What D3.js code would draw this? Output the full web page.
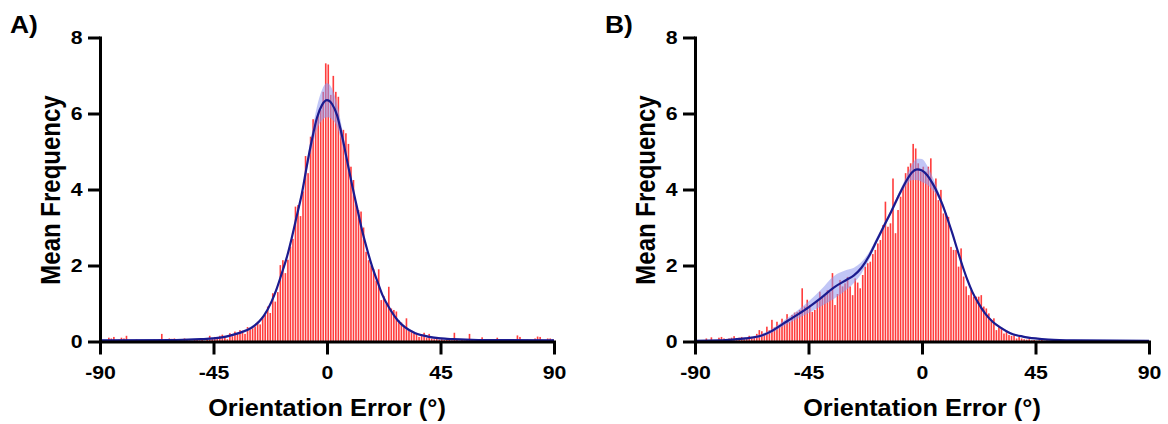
<!DOCTYPE html>
<html>
<head>
<meta charset="utf-8">
<script src="https://cdn.jsdelivr.net/npm/d3@7"></script>
<style>
  body { margin: 0; background: #fff; }
  svg { display: block; font-family: "Liberation Sans", Arial, Helvetica, sans-serif; font-weight: bold; }
</style>
</head>
<body>
<svg id="chart" width="1168" height="424"></svg>
<script>
// axis ticks
const xTicks = [-90, -45, 0, 45, 90];
const yTicks = [0, 2, 4, 6, 8];

// one bin per degree, -90 .. 89
const binStarts = d3.range(-90, 90);

// mean frequency per bin, panel A
const barsA = [
  0.05, 0, 0.02, 0.1, 0.08, 0.12, 0, 0.05, 0.1, 0.08,
  0.15, 0.02, 0, 0.03, 0.05, 0.02, 0, 0.04, 0.03, 0,
  0.02, 0.05, 0.03, 0.06, 0.2, 0.04, 0.02, 0.08, 0.07, 0.08,
  0.03, 0.06, 0.02, 0.08, 0.05, 0.03, 0.02, 0.06, 0.04, 0.03,
  0.05, 0.02, 0.06, 0.15, 0.08, 0.12, 0.1, 0.15, 0.18, 0.1,
  0.06, 0.22, 0.14, 0.26, 0.2, 0.3, 0.28, 0.2, 0.38, 0.32,
  0.35, 0.4, 0.52, 0.45, 0.62, 0.7, 0.92, 0.75, 1.27, 1.05,
  1.3, 2.01, 2.14, 1.8, 2.15, 2.5, 2.7, 3.55, 3.59, 3.3,
  3.95, 4.88, 4.43, 5.39, 5.85, 5.74, 6.0, 6.09, 6.57, 7.32,
  7.29, 6.49, 6.99, 6.57, 6.44, 5.61, 5.57, 5.48, 5.2, 4.6,
  4.25, 3.64, 3.46, 3.42, 3.0, 2.36, 2.14, 2.0, 1.9, 1.6,
  1.9, 1.09, 1.2, 1.0, 1.44, 0.87, 0.83, 0.79, 0.56, 0.5,
  0.4, 0.61, 0.3, 0.28, 0.22, 0.2, 0.12, 0.18, 0.23, 0.1,
  0.2, 0.08, 0.06, 0.11, 0.05, 0.07, 0.04, 0.05, 0.06, 0.03,
  0.23, 0.04, 0.02, 0.05, 0.03, 0.05, 0.2, 0.06, 0.02, 0.04,
  0.03, 0.11, 0.02, 0.04, 0.03, 0.05, 0.02, 0.1, 0.04, 0.03,
  0.02, 0.05, 0.04, 0.02, 0.06, 0.16, 0.12, 0.03, 0.02, 0.05,
  0.04, 0.03, 0.08, 0.13, 0.12, 0.03, 0.02, 0.08, 0.08, 0.06
];

// mean frequency per bin, panel B
const barsB = [
  0, 0, 0.02, 0, 0.08, 0, 0.11, 0.03, 0, 0.1,
  0.12, 0.08, 0.05, 0.08, 0.1, 0.14, 0.06, 0.1, 0.12, 0.08,
  0.1, 0.15, 0.12, 0.14, 0.2, 0.3, 0.27, 0.2, 0.39, 0.3,
  0.57, 0.37, 0.52, 0.39, 0.6, 0.48, 0.72, 0.52, 0.7, 0.76,
  0.78, 0.83, 1.4, 0.92, 1.1, 0.95, 0.78, 0.83, 1.05, 1.31,
  1.15, 1.2, 1.35, 1.3, 1.8, 0.96, 1.25, 1.62, 1.45, 1.53,
  1.7, 1.45, 1.22, 1.66, 1.55, 1.4, 1.75, 1.97, 2.06, 2.1,
  2.3, 2.41, 2.58, 2.67, 3.06, 3.68, 3.02, 3.11, 4.29, 2.85,
  3.46, 3.81, 4.07, 4.43, 4.6, 4.69, 5.2, 5.08, 4.69, 4.47,
  4.6, 4.47, 4.6, 4.82, 4.16, 4.29, 3.72, 3.99, 3.37, 3.37,
  3.28, 2.49, 2.41, 2.41, 1.97, 2.45, 1.71, 1.45, 1.22, 1.36,
  1.18, 1.18, 1.18, 1.22, 0.92, 0.87, 0.74, 0.57, 0.61, 0.3,
  0.39, 0.35, 0.21, 0.28, 0.17, 0.15, 0.16, 0.08, 0.12, 0.08,
  0.06, 0.05, 0.06, 0.03, 0.04, 0.02, 0.03, 0.05, 0.02, 0.03,
  0, 0.02, 0, 0.04, 0, 0, 0.02, 0, 0, 0,
  0, 0, 0, 0.02, 0, 0, 0, 0, 0, 0,
  0, 0, 0, 0, 0, 0, 0, 0, 0, 0,
  0, 0, 0, 0, 0, 0, 0, 0, 0, 0
];

// fitted curve A + half width of its shaded band
const fitDegA = [-90, -60, -50, -45, -40, -35, -30, -27, -25, -22, -20, -18, -16, -14, -12, -10, -8, -6, -4, -2,
  0, 2, 4, 6, 8, 10, 12, 14, 16, 18, 20, 22, 25, 28, 31, 35, 40, 45, 50, 60, 90];
const fitA = [0.03, 0.04, 0.06, 0.08, 0.13, 0.22, 0.36, 0.52, 0.68, 1.05, 1.38, 1.78, 2.2, 2.72, 3.3, 3.88, 4.62, 5.3, 5.88, 6.22,
  6.35, 6.25, 5.95, 5.4, 4.75, 4.1, 3.5, 2.9, 2.4, 1.95, 1.58, 1.22, 0.85, 0.56, 0.37, 0.22, 0.13, 0.08, 0.06, 0.04, 0.03];
const bandA = [0.02, 0.02, 0.02, 0.03, 0.03, 0.03, 0.04, 0.04, 0.04, 0.05, 0.05, 0.05, 0.05, 0.06, 0.07, 0.08, 0.12, 0.2, 0.3, 0.4,
  0.45, 0.4, 0.3, 0.2, 0.12, 0.08, 0.07, 0.06, 0.05, 0.05, 0.05, 0.05, 0.04, 0.04, 0.04, 0.03, 0.03, 0.03, 0.02, 0.02, 0.02];

// fitted curve B + band
const fitDegB = [-90, -80, -75, -70, -65, -60, -55, -50, -45, -40, -35, -30, -27, -24, -21, -18, -15, -12, -9, -6, -4, -2,
  0, 2, 4, 6, 8, 10, 12, 14, 16, 18, 20, 22, 25, 28, 31, 35, 40, 45, 50, 60, 90];
const fitB = [0.02, 0.03, 0.05, 0.08, 0.13, 0.26, 0.47, 0.68, 0.9, 1.15, 1.42, 1.62, 1.74, 1.94, 2.25, 2.65, 3.05, 3.45, 3.87, 4.25, 4.45, 4.53,
  4.5, 4.38, 4.18, 3.93, 3.62, 3.25, 2.85, 2.42, 2.0, 1.62, 1.3, 1.05, 0.74, 0.52, 0.37, 0.22, 0.13, 0.08, 0.05, 0.03, 0.02];
const bandB = [0.02, 0.02, 0.03, 0.03, 0.04, 0.05, 0.07, 0.1, 0.15, 0.22, 0.3, 0.26, 0.2, 0.15, 0.1, 0.08, 0.07, 0.07, 0.08, 0.12, 0.2, 0.28,
  0.3, 0.25, 0.18, 0.1, 0.07, 0.06, 0.05, 0.05, 0.05, 0.05, 0.04, 0.04, 0.04, 0.03, 0.03, 0.03, 0.02, 0.02, 0.02, 0.02, 0.02];

const svg = d3.select('#chart');
const W = 454, H = 304, TOP = 37.5;
const STRETCH = 1.12; // the glyphs in the figure are a bit wide

function drawPanel(left, label, bars, fitDeg, fit, band) {
  const g = svg.append('g').attr('transform', `translate(${left},${TOP})`);
  const x = d3.scaleLinear().domain([-90, 90]).range([0, W]);
  const y = d3.scaleLinear().domain([0, 8]).range([H, 0]);
  const step = x(1) - x(0);

  g.selectAll('rect.bar')
    .data(bars)
    .enter().append('rect')
    .attr('class', 'bar')
    .attr('x', (d, i) => x(binStarts[i]) + step * 0.18)
    .attr('width', step * 0.64)
    .attr('y', d => y(d))
    .attr('height', d => y(0) - y(d))
    .attr('fill', '#ff3d3d');

  const pts = fitDeg.map((d, i) => ({ deg: d, v: fit[i], b: band[i] }));

  g.append('path')
    .datum(pts)
    .attr('fill', '#8e98ee')
    .attr('fill-opacity', 0.55)
    .attr('d', d3.area()
      .x(d => x(d.deg))
      .y0(d => y(Math.max(0, d.v - d.b)))
      .y1(d => y(d.v + d.b))
      .curve(d3.curveMonotoneX));

  g.append('path')
    .datum(pts)
    .attr('fill', 'none')
    .attr('stroke', '#1b1b8f')
    .attr('stroke-width', 2.2)
    .attr('d', d3.line()
      .x(d => x(d.deg))
      .y(d => y(d.v))
      .curve(d3.curveMonotoneX));

  // axes, plain hyphen for negatives like the figure
  const xAxis = g.append('g')
    .attr('transform', `translate(0,${H})`)
    .call(d3.axisBottom(x).tickValues(xTicks).tickSize(13).tickSizeOuter(0).tickPadding(11.5)
      .tickFormat(d => String(d)));
  const yAxis = g.append('g')
    .call(d3.axisLeft(y).tickValues(yTicks).tickSize(12).tickSizeOuter(0).tickFormat(d => String(d)));

  [xAxis, yAxis].forEach(a => {
    a.select('.domain').attr('stroke', '#000').attr('stroke-width', 3).attr('stroke-linecap', 'square');
    a.selectAll('.tick line').attr('stroke', '#000').attr('stroke-width', 3);
    a.selectAll('.tick text')
      .attr('fill', '#000')
      .style('font-size', '19px')
      .style('font-weight', 'bold')
      .style('font-family', '"Liberation Sans", Arial, sans-serif');
  });
  yAxis.selectAll('.tick text').attr('x', -15.5).attr('transform', `scale(${STRETCH},1)`);
  xAxis.selectAll('.tick text').attr('transform', `scale(${STRETCH},1)`);

  // titles
  g.append('text')
    .attr('text-anchor', 'middle')
    .attr('transform', `translate(${x(0)},${416 - TOP}) scale(1.1,1)`)
    .style('font-size', '23px')
    .text('Orientation Error (°)');

  g.append('text')
    .attr('text-anchor', 'middle')
    .attr('transform', `translate(-40,${190 - TOP}) rotate(-90) scale(1,1.12)`)
    .style('font-size', '24px')
    .text('Mean Frequency');

  svg.append('text')
    .attr('transform', `translate(${left - 90},33) scale(1.1,1)`)
    .style('font-size', '24px')
    .text(label);
}

drawPanel(100, 'A)', barsA, fitDegA, fitA, bandA);
drawPanel(695, 'B)', barsB, fitDegB, fitB, bandB);
</script>
</body>
</html>
